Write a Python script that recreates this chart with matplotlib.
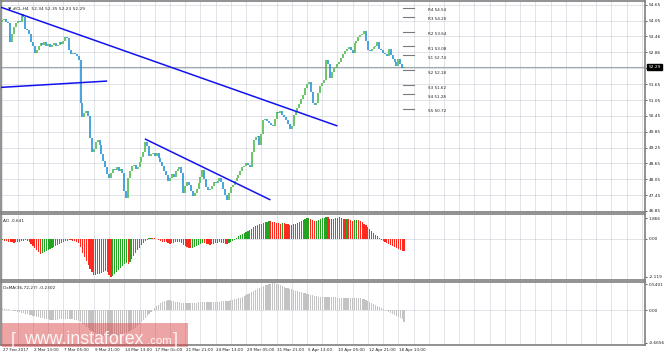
import matplotlib
matplotlib.use("Agg")
import matplotlib.pyplot as plt
from matplotlib.patches import Rectangle
import numpy as np

# ---------------- data ----------------
closes = [
    54.08, 54.12, 54.02, 53.95, 53.25, 53.55, 53.80, 53.95, 54.05, 54.00,
    54.30, 54.20, 53.75, 53.70, 53.55, 53.25, 53.10, 52.85, 52.95, 53.10,
    53.20, 53.15, 53.25, 53.10, 53.18, 53.05, 53.12, 53.20, 53.08, 53.15,
    53.25, 53.18, 53.30, 53.45, 53.40, 52.95, 52.80, 52.85, 52.78, 52.72,
    52.55, 50.95, 50.40, 50.55, 50.65, 50.45, 49.60, 49.10, 49.20, 49.45,
    49.55, 49.35, 49.00, 48.75, 48.50, 48.25, 48.10, 48.30, 48.45, 48.40,
    48.50, 48.35, 48.45, 48.30, 47.60, 47.35, 48.10, 48.35, 48.55, 48.60,
    48.45, 48.50, 48.70, 48.90, 49.10, 49.45, 49.30, 48.95, 49.00, 49.05,
    48.95, 49.05, 48.85, 48.70, 48.55, 48.35, 48.20, 48.00, 48.10, 48.25,
    48.15, 48.35, 48.45, 48.50, 48.30, 47.55, 47.80, 47.95, 47.85, 47.60,
    47.40, 47.55, 47.70, 47.90, 48.15, 48.40, 48.05, 47.75, 47.65, 47.70,
    47.80, 47.95, 47.90, 48.00, 48.10, 47.95, 47.70, 47.45, 47.25, 47.55,
    47.75, 47.85, 48.00, 48.10, 48.20, 48.35, 48.50, 48.55, 48.65, 48.60,
    48.50, 49.10, 49.55, 49.65, 49.70, 49.35, 49.75, 50.30, 50.35, 50.25,
    50.20, 50.10, 50.05, 50.35, 50.60, 50.55, 50.65, 50.50, 50.40, 50.30,
    50.15, 49.95, 50.05, 50.50, 50.60, 50.75, 50.90, 51.10, 51.25, 51.50,
    51.65, 51.75, 51.35, 50.95, 50.85, 50.95, 51.30, 51.60, 51.70, 51.80,
    52.55, 52.40, 51.90, 52.10, 52.25, 52.30, 52.40, 52.50, 52.65, 52.80,
    52.90, 53.00, 53.05, 52.95, 52.85, 53.20, 53.30, 53.45, 53.50, 53.55,
    53.65, 53.30, 52.95, 52.90, 53.00, 53.05, 53.10, 53.25, 53.00, 52.95,
    52.85, 52.80, 52.72, 53.00, 52.75, 52.62, 52.50, 52.35, 52.60, 52.40,
    52.25, 52.29,
]
first_open = 54.00

ao_values = [
    -0.05, -0.08, -0.10, -0.13, -0.16, -0.18, -0.21, -0.18, -0.16, -0.13,
    -0.10, -0.08, -0.05, -0.10, -0.16, -0.26, -0.36, -0.47, -0.57, -0.67,
    -0.75, -0.72, -0.67, -0.62, -0.57, -0.52, -0.47, -0.41, -0.36, -0.31,
    -0.26, -0.21, -0.16, -0.10, -0.08, -0.05, -0.06, -0.08, -0.10, -0.13,
    -0.21, -0.41, -0.72, -0.93, -1.14, -1.34, -1.55, -1.71, -1.86, -1.86,
    -1.81, -1.81, -1.76, -1.71, -1.65, -1.71, -1.86, -1.96, -1.91, -1.81,
    -1.71, -1.60, -1.50, -1.40, -1.29, -1.24, -1.27, -1.19, -1.03, -0.88,
    -0.72, -0.57, -0.47, -0.31, -0.21, -0.10, -0.05, 0.03, 0.05, 0.04,
    0.03, 0.01, -0.03, -0.08, -0.13, -0.16, -0.18, -0.23, -0.26, -0.23,
    -0.21, -0.18, -0.16, -0.18, -0.23, -0.31, -0.36, -0.41, -0.47, -0.49,
    -0.47, -0.41, -0.36, -0.31, -0.26, -0.23, -0.23, -0.26, -0.28, -0.31,
    -0.28, -0.26, -0.23, -0.21, -0.18, -0.21, -0.23, -0.26, -0.26, -0.23,
    -0.18, -0.10, -0.03, 0.05, 0.13, 0.21, 0.26, 0.31, 0.36, 0.41,
    0.47, 0.54, 0.62, 0.67, 0.72, 0.75, 0.78, 0.83, 0.88, 0.90,
    0.93, 0.93, 0.90, 0.88, 0.85, 0.83, 0.80, 0.85, 0.83, 0.78,
    0.75, 0.72, 0.70, 0.75, 0.80, 0.85, 0.90, 0.95, 1.00, 1.05,
    1.08, 1.10, 1.05, 0.98, 0.93, 0.95, 1.00, 1.05, 1.08, 1.10,
    1.15, 1.12, 1.05, 1.02, 1.05, 1.08, 1.10, 1.12, 1.10, 1.05,
    1.02, 1.05, 1.03, 0.98, 0.95, 0.98, 1.00, 0.98, 0.93, 0.88,
    0.80, 0.72, 0.62, 0.52, 0.41, 0.31, 0.21, 0.13, 0.05, -0.03,
    -0.10, -0.16, -0.21, -0.26, -0.31, -0.36, -0.41, -0.47, -0.52, -0.57,
    -0.60, -0.64,
]

osma_values = [
    0.041, 0.037, 0.031, 0.020, 0.010, 0.000, -0.010, -0.020, -0.031, -0.041,
    -0.051, -0.061, -0.072, -0.082, -0.092, -0.102, -0.112, -0.123, -0.133, -0.143,
    -0.153, -0.164, -0.174, -0.184, -0.184, -0.194, -0.194, -0.194, -0.194, -0.194,
    -0.184, -0.184, -0.184, -0.184, -0.184, -0.184, -0.184, -0.184, -0.194, -0.204,
    -0.215, -0.245, -0.276, -0.307, -0.337, -0.368, -0.399, -0.429, -0.450, -0.470,
    -0.491, -0.501, -0.511, -0.521, -0.532, -0.532, -0.532, -0.532, -0.532, -0.521,
    -0.511, -0.501, -0.491, -0.481, -0.470, -0.460, -0.450, -0.429, -0.409, -0.389,
    -0.358, -0.327, -0.286, -0.245, -0.204, -0.164, -0.123, -0.082, -0.041, 0.000,
    0.041, 0.082, 0.112, 0.143, 0.164, 0.184, 0.194, 0.204, 0.204, 0.194,
    0.184, 0.174, 0.164, 0.164, 0.153, 0.153, 0.153, 0.153, 0.153, 0.153,
    0.153, 0.153, 0.153, 0.164, 0.164, 0.164, 0.164, 0.174, 0.174, 0.174,
    0.174, 0.174, 0.174, 0.174, 0.174, 0.184, 0.184, 0.184, 0.184, 0.194,
    0.204, 0.215, 0.225, 0.235, 0.245, 0.256, 0.266, 0.286, 0.307, 0.327,
    0.348, 0.368, 0.389, 0.409, 0.429, 0.450, 0.470, 0.491, 0.511, 0.521,
    0.532, 0.542, 0.552, 0.552, 0.542, 0.532, 0.511, 0.491, 0.470, 0.460,
    0.450, 0.440, 0.429, 0.409, 0.399, 0.389, 0.378, 0.368, 0.358, 0.348,
    0.337, 0.327, 0.317, 0.307, 0.297, 0.286, 0.276, 0.266, 0.266, 0.266,
    0.266, 0.266, 0.266, 0.266, 0.266, 0.266, 0.256, 0.256, 0.256, 0.256,
    0.256, 0.256, 0.256, 0.256, 0.245, 0.245, 0.245, 0.245, 0.245, 0.235,
    0.225, 0.204, 0.184, 0.164, 0.143, 0.123, 0.102, 0.082, 0.061, 0.041,
    0.020, 0.000, -0.020, -0.041, -0.061, -0.082, -0.102, -0.123, -0.143, -0.164,
    -0.184, -0.230,
]

date_labels = ["27 Feb 2017", "2 Mar 13:00", "7 Mar 05:00", "9 Mar 21:00",
               "14 Mar 13:00", "17 Mar 05:00", "21 Mar 21:00", "24 Mar 13:00",
               "29 Mar 05:00", "31 Mar 21:00", "5 Apr 13:00", "10 Apr 05:00",
               "12 Apr 21:00", "18 Apr 13:00"]
label_step = 16
grid_step = 8

price_ticks = [54.65, 54.05, 53.46, 52.86, 52.26, 51.65, 51.05, 50.45,
               49.85, 49.25, 48.65, 48.05, 47.45, 46.85]
price_tick_labels = ["54.65", "54.05", "53.46", "52.86", "", "51.65", "51.05",
                     "50.45", "49.85", "49.25", "48.65", "48.05", "47.45", "46.85"]
bid_price = 52.29
title_text = "#CL,H4  52.34 52.35 52.23 52.29"

pivot_names = ["R4", "R3", "R2", "R1", "S1", "S2", "S3", "S4", "S5"]
pivot_levels = [54.54, 54.20, 53.64, 53.08, 52.74, 52.18, 51.62, 51.28, 50.72]

# trend lines: (bar index, price) start and end
trend1_x = [-1.0, 176.0]
trend1_y = [54.57, 50.07]
trend2_x = [-1.0, 55.0]
trend2_y = [51.53, 51.77]
trend3_x = [74.8, 140.8]
trend3_y = [49.58, 47.27]

ao_tick_labels = ["1.866", "0.00", "-2.119"]
ao_label = "AO -0.641"
osma_ticks = [0.5401, 0.0, -0.6656]
osma_tick_labels = ["0.5401", "0.00", "-0.6656"]
osma_label = "OsMA(36,72,27) -0.2302"

# ---------------- figure ----------------
W, H = 665, 356
fig = plt.figure(figsize=(W / 100, H / 100), dpi=100)
fig.patch.set_facecolor("white")

def fx(px):
    return px / W

def fy(py):
    return 1 - py / H

left_px, right_px = 0.5, 645
ax_main = fig.add_axes([fx(left_px), fy(212), fx(right_px - left_px), (212 - 1) / H])
ax_ao = fig.add_axes([fx(left_px), fy(280), fx(right_px - left_px), (280 - 214) / H])
ax_os = fig.add_axes([fx(left_px), fy(345), fx(right_px - left_px), (345 - 282) / H])

n = len(closes)
idx = np.arange(n)
px_per_bar = 1.903
xmin = -1.05
xmax = xmin + (right_px - left_px) / px_per_bar

FS = 3.1
grid_color = "#b9c3cf"
frame_color = "#7f7f7f"
text_color = "#222222"

for ax in (ax_main, ax_ao, ax_os):
    ax.set_xlim(xmin, xmax)
    ax.set_facecolor("white")
    for s in ax.spines.values():
        s.set_color(frame_color)
        s.set_linewidth(1.2)
    ax.yaxis.tick_right()
    ax.tick_params(axis="y", labelsize=FS, length=1.5, width=0.5, pad=1.0,
                   colors=text_color)
    ax.tick_params(axis="x", length=0, labelbottom=False)
    ax.set_xticks(np.arange(0, xmax, grid_step))
    ax.grid(True, axis="both", color=grid_color, linestyle=(0, (1.2, 1.2)),
            linewidth=0.6)
    ax.set_axisbelow(True)

# ---- main price panel ----
price_per_px = (54.65 - 46.85) / (211 - 5)
ax_main.set_ylim(46.85 - (212 - 211) * price_per_px, 54.65 + (5 - 1) * price_per_px)
ax_main.set_yticks(price_ticks)
ax_main.set_yticklabels(price_tick_labels)

opens = [first_open] + closes[:-1]
up_c = "#4cb848"
dn_c = "#1f8fd6"
cols = [up_c if c >= o else dn_c for o, c in zip(opens, closes)]
lo = np.minimum(opens, closes)
hi = np.maximum(opens, closes)
ax_main.vlines(idx, lo, hi, colors=cols, linewidth=1.15, zorder=3)

ax_main.axhline(bid_price, color="#a3a8ad", linewidth=0.8, zorder=2)

for tx, ty in ((trend1_x, trend1_y), (trend2_x, trend2_y), (trend3_x, trend3_y)):
    ax_main.plot(tx, ty, color="#1212f0", linewidth=1.1, zorder=4,
                 solid_capstyle="butt")

piv_x0, piv_x1, piv_lab = 210.5, 216.5, 223.5
for name, lev in zip(pivot_names, pivot_levels):
    ax_main.plot([piv_x0, piv_x1], [lev, lev], color="#7a7a7a", linewidth=0.8, zorder=4)
    ax_main.text(piv_lab, lev - 0.02, f"{name} {lev:.2f}", fontsize=FS - 0.1,
                 color=text_color, va="top", ha="left")

ax_main.text(0.011, 0.975, "\u25bc " + title_text, transform=ax_main.transAxes,
             fontsize=FS, color=text_color, va="top", ha="left")

ax_main.annotate(f"{bid_price:.2f}", xy=(1.0, bid_price),
                 xycoords=("axes fraction", "data"),
                 xytext=(2.5, 0), textcoords="offset points",
                 fontsize=FS, color="white", va="center", ha="left",
                 bbox=dict(boxstyle="square,pad=0.25", fc="black", ec="black"))

# ---- AO panel ----
ao_pp = 41 / 2.119  # px per unit, zero line 25 px below the panel top
ax_ao.set_ylim(-(280 - 239) / ao_pp, (239 - 214) / ao_pp)
ao_cols = ["#22a322"] + ["#22a322" if ao_values[i] > ao_values[i - 1] else "#ff2a1f"
                          for i in range(1, n)]
ax_ao.bar(idx, ao_values, width=0.62, color=ao_cols, linewidth=0, zorder=3)
ax_ao.set_yticks([(239 - 218) / ao_pp, 0.0, -(277 - 239) / ao_pp])
ax_ao.set_yticklabels(ao_tick_labels)
ax_ao.yaxis.grid(False)
ax_ao.axhline(0, color=grid_color, linestyle=(0, (1.2, 1.2)), linewidth=0.6, zorder=1)
ax_ao.text(0.004, 0.93, ao_label, transform=ax_ao.transAxes, fontsize=FS,
           color=text_color, va="top", ha="left")

# ---- OsMA panel ----
os_pp = 59 / (0.5401 + 0.6656)
ax_os.set_ylim(-0.6656 - 2 / os_pp, 0.5401 + 2 / os_pp)
ax_os.bar(idx, osma_values, width=0.62, color="#c3c3c3", linewidth=0, zorder=3)
ax_os.set_yticks(osma_ticks)
ax_os.set_yticklabels(osma_tick_labels)
ax_os.yaxis.grid(False)
ax_os.axhline(0, color=grid_color, linestyle=(0, (1.2, 1.2)), linewidth=0.6, zorder=1)
ax_os.text(0.004, 0.93, osma_label, transform=ax_os.transAxes, fontsize=FS,
           color=text_color, va="top", ha="left")

# date labels
for k, lab in enumerate(date_labels):
    ax_os.text(k * label_step + 0.4, -0.045, lab, transform=ax_os.get_xaxis_transform(),
               fontsize=2.95, color=text_color, va="top", ha="left", clip_on=False)

# watermark
fig.patches.append(Rectangle((fx(2), fy(347)), fx(186), (347 - 323) / H,
                             transform=fig.transFigure, facecolor="#dc4a4a",
                             alpha=0.5, edgecolor="none", zorder=10))
wm = dict(color="white", va="baseline", ha="left", zorder=11, alpha=0.9,
          family="Liberation Sans")
fig.text(fx(11), fy(345), "[", fontsize=13, **wm)
fig.text(fx(24), fy(344), "www.instaforex", fontsize=12.8, **wm)
fig.text(fx(147), fy(344), ".com", fontsize=8.2, **wm)
fig.text(fx(173), fy(345), "]", fontsize=13, **wm)

fig.savefig("out.png", dpi=100)
